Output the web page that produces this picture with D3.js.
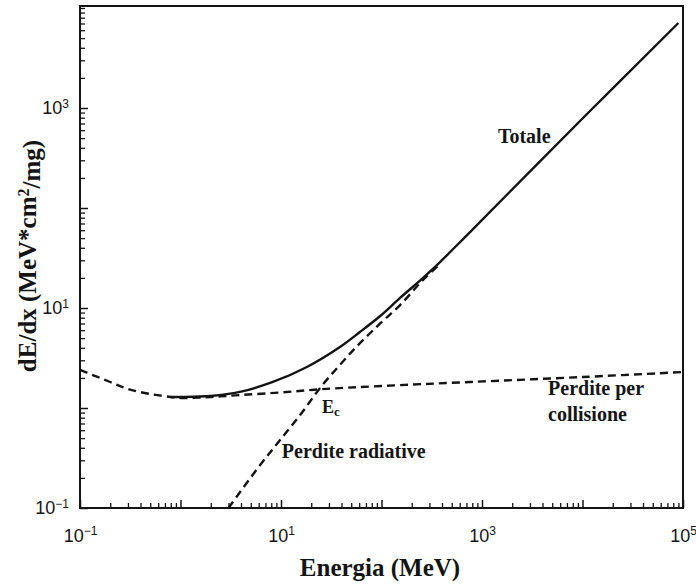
<!DOCTYPE html>
<html><head><meta charset="utf-8">
<script src="https://cdn.jsdelivr.net/npm/d3@7"></script>
<style>body{margin:0;background:#fff}</style>
</head><body><svg id="c" width="696" height="586"></svg>
<script>
// ---- data ----
const energyMajor = [0.1, 1, 10, 100, 1e3, 1e4, 1e5];
const energyLabeled = [0.1, 10, 1e3, 1e5];
const energyExp = ["\u22121", "1", "3", "5"];
const dedxMajor = [0.1, 1, 10, 100, 1e3];
const dedxLabeled = [0.1, 10, 1e3];
const dedxExp = ["\u22121", "1", "3"];

const collisionE = [0.1, 0.2, 0.3, 0.5, 0.8, 1, 2, 4, 10, 25, 100, 760, 10000, 100000];
const collisionV = [2.4, 1.82, 1.55, 1.38, 1.29, 1.26, 1.29, 1.35, 1.43, 1.54, 1.66, 1.82, 2.04, 2.29];
const radiativeE = [3.0, 6.2, 9.8, 15.5, 24.4, 38.6, 61, 97, 153, 259, 382];
const radiativeV = [0.1, 0.269, 0.479, 0.85, 1.58, 2.7, 4.45, 7.0, 10.7, 19.1, 27.5];
const totalE = [0.8, 1, 2, 3.9, 8.3, 18.1, 38.6, 61, 97, 153, 259, 382, 760, 10000, 90000];
const totalV = [1.29, 1.29, 1.32, 1.45, 1.82, 2.57, 4.07, 5.75, 8.32, 12.6, 20.0, 28.8, 57.5, 785, 7080];

const labels = [
  {text: "Totale", E: 1440, V: 447},
  {text: "Perdite radiative", E: 10.2, V: 0.316},
  {text: "Perdite per", E: 4540, V: 1.35},
  {text: "collisione", E: 4540, V: 0.74}
];

// ---- chart ----
const svg = d3.select("#c");
const L = 80, R = 683, T = 6, B = 508;
const x = d3.scaleLog().domain([0.1, 1e5]).range([L, R]);
const y = d3.scaleLog().domain([0.1, Math.pow(10, 4.02)]).range([B, T]);
const ink = "#141414";

function supLabel(sel, exps) {
  sel.each(function(d, i) {
    const t = d3.select(this);
    t.text("");
    t.append("tspan").text("10");
    t.append("tspan").attr("dy", "-0.55em").style("font-size", "12px").text(exps[i]);
  });
}

// minor ticks
const minorX = x.ticks().filter(v => !energyMajor.some(m => Math.abs(m - v) / m < 1e-9));
const minorY = y.ticks().filter(v => !dedxMajor.some(m => Math.abs(m - v) / m < 1e-9));

svg.append("g").attr("transform", `translate(0,${B})`)
  .call(d3.axisBottom(x).tickValues(minorX).tickSize(-5).tickFormat(""))
  .call(g => g.select(".domain").remove())
  .selectAll("line").attr("stroke", ink).attr("stroke-width", 1.3);
svg.append("g").attr("transform", `translate(0,${B})`)
  .call(d3.axisBottom(x).tickValues(energyMajor).tickSize(-8).tickFormat(""))
  .call(g => g.select(".domain").remove())
  .selectAll("line").attr("stroke", ink).attr("stroke-width", 1.5);
svg.append("g").attr("transform", `translate(${L},0)`)
  .call(d3.axisLeft(y).tickValues(minorY).tickSize(-5).tickFormat(""))
  .call(g => g.select(".domain").remove())
  .selectAll("line").attr("stroke", ink).attr("stroke-width", 1.3);
svg.append("g").attr("transform", `translate(${L},0)`)
  .call(d3.axisLeft(y).tickValues(dedxMajor).tickSize(-8).tickFormat(""))
  .call(g => g.select(".domain").remove())
  .selectAll("line").attr("stroke", ink).attr("stroke-width", 1.5);

// labelled ticks
const gx = svg.append("g").attr("transform", `translate(0,${B})`)
  .call(d3.axisBottom(x).tickValues(energyLabeled).tickSize(0).tickPadding(21).tickFormat(d => d));
gx.select(".domain").remove();
gx.selectAll("text").attr("fill", ink).style("font-family", "'Liberation Sans', Arial, sans-serif")
  .style("font-size", "18px").call(supLabel, energyExp);

const gy = svg.append("g").attr("transform", `translate(${L},0)`)
  .call(d3.axisLeft(y).tickValues(dedxLabeled).tickSize(0).tickPadding(11).tickFormat(d => d));
gy.select(".domain").remove();
gy.selectAll("text").attr("fill", ink).style("font-family", "'Liberation Sans', Arial, sans-serif")
  .style("font-size", "18px").call(supLabel, dedxExp);

// frame
svg.append("rect").attr("x", L).attr("y", T).attr("width", R - L).attr("height", B - T)
  .attr("fill", "none").attr("stroke", ink).attr("stroke-width", 2);

// curves
const line = d3.line().x(d => x(d[0])).y(d => y(d[1])).curve(d3.curveCatmullRom.alpha(0.5));
svg.append("path").datum(collisionE.map((e, i) => [e, collisionV[i]]))
  .attr("d", line).attr("fill", "none").attr("stroke", ink).attr("stroke-width", 2.4)
  .attr("stroke-dasharray", "8,5");
svg.append("path").datum(radiativeE.map((e, i) => [e, radiativeV[i]]))
  .attr("d", line).attr("fill", "none").attr("stroke", ink).attr("stroke-width", 2.4)
  .attr("stroke-dasharray", "8,5");
svg.append("path").datum(totalE.map((e, i) => [e, totalV[i]]))
  .attr("d", line).attr("fill", "none").attr("stroke", ink).attr("stroke-width", 2.4);

// annotations
const serif = "'Liberation Serif', 'Times New Roman', serif";
svg.selectAll("text.ann").data(labels).enter().append("text").attr("class", "ann")
  .attr("x", d => x(d.E)).attr("y", d => y(d.V))
  .attr("fill", ink).style("font-family", serif).style("font-weight", "bold").style("font-size", "20px")
  .text(d => d.text);
const ec = svg.append("text").attr("x", x(25.6)).attr("y", y(0.89))
  .attr("fill", ink).style("font-family", serif).style("font-weight", "bold").style("font-size", "18px");
ec.append("tspan").text("E");
ec.append("tspan").attr("dy", "0.25em").style("font-size", "13px").text("c");

// axis titles
svg.append("text").attr("x", 380).attr("y", 576).attr("text-anchor", "middle")
  .attr("fill", ink).style("font-family", serif).style("font-weight", "bold").style("font-size", "25px")
  .text("Energia (MeV)");
const yt = svg.append("text").attr("transform", "translate(36,256) rotate(-90)").attr("text-anchor", "middle")
  .attr("fill", ink).style("font-family", serif).style("font-weight", "bold").style("font-size", "25px");
yt.append("tspan").text("dE/dx (MeV*cm");
yt.append("tspan").attr("dy", "-0.45em").style("font-size", "16px").text("2");
yt.append("tspan").attr("dy", "0.45em").text("/mg)");
</script></body></html>
